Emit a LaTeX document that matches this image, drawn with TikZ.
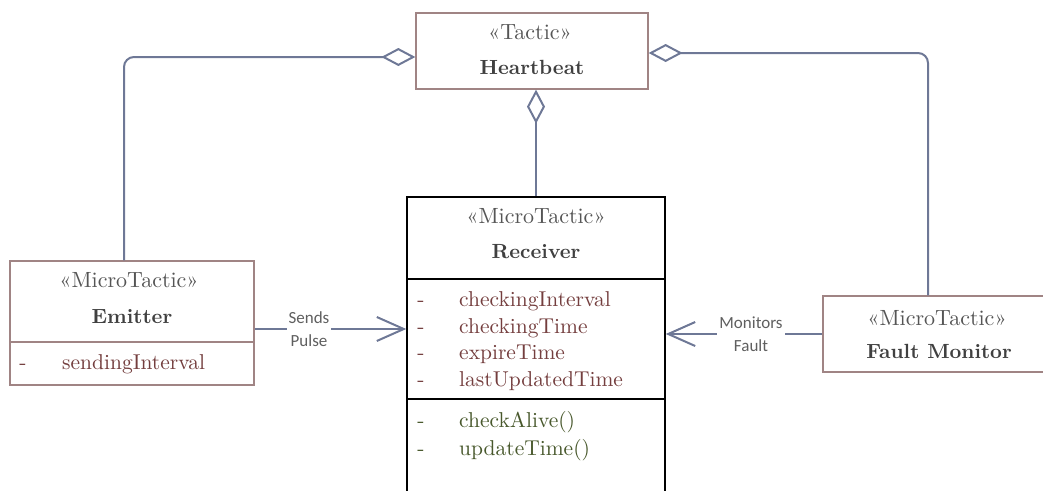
\documentclass[tikz,border=0pt]{standalone}
\usepackage{fontspec}
\IfFontExistsTF{lmroman10-regular.otf}{%
  \newfontfamily\lmten{lmroman10-regular.otf}[BoldFont=lmroman10-bold.otf]}{%
  \newfontfamily\lmten{Latin Modern Roman}}
\newfontfamily\lblfont{Carlito}
\usetikzlibrary{arrows.meta}
\definecolor{boxc}{HTML}{A08484}
\definecolor{connc}{HTML}{6E7896}
\definecolor{stc}{HTML}{555555}
\definecolor{namec}{HTML}{404040}
\definecolor{attrc}{HTML}{743E3E}
\definecolor{opc}{HTML}{48582C}
\definecolor{lblc}{HTML}{5F5F5F}
\begin{document}
\begin{tikzpicture}[x=1pt,y=-1pt,
  box/.style={draw=boxc,line width=1.3pt,inner sep=0pt,fill=white},
  rbox/.style={draw=black,line width=1.5pt,inner sep=0pt},
  stereo/.style={font=\lmten\fontsize{22}{25}\selectfont,text=stc,anchor=base,inner sep=0pt},
  cname/.style={font=\lmten\fontsize{20.5}{25}\selectfont\bfseries,text=namec,anchor=base,inner sep=0pt},
  attr/.style={font=\lmten\fontsize{21.5}{25}\selectfont,text=attrc,anchor=base west,inner sep=0pt},
  attrdash/.style={font=\lmten\fontsize{21.5}{25}\selectfont,text=attrc,anchor=base,inner sep=0pt},
  op/.style={font=\lmten\fontsize{21.5}{25}\selectfont,text=opc,anchor=base west,inner sep=0pt},
  opdash/.style={font=\lmten\fontsize{21.5}{25}\selectfont,text=opc,anchor=base,inner sep=0pt},
  connline/.style={draw=connc,line width=2pt},
  agg/.style={connline,{Diamond[open,length=34pt,width=18pt,line width=2pt]}-,rounded corners=10pt},
  assoc/.style={connline,-{Straight Barb[length=27pt,width=24pt,line width=2pt]}},
  lbl/.style={font=\lblfont\fontsize{17}{23}\selectfont,text=lblc,fill=white,align=center,inner sep=2pt}]
\useasboundingbox (0,0) rectangle (1043,490);
\begin{scope}
\clip (0,0) rectangle (1043,490);
% Heartbeat
\node[box,minimum width=232pt,minimum height=76pt] (hb) at (532,51) {};
\node[stereo] (hbs) at (530,39) {«Tactic»};
\node[cname] (hbn) at (532,74) {Heartbeat};
% Receiver
\node[rbox,minimum width=258pt,minimum height=82pt] (rcH) at (536,238) {};
\node[rbox,minimum width=258pt,minimum height=120pt] (rcA) at (536,339) {};
\node[rbox,minimum width=258pt,minimum height=96pt] (rcO) at (536,447) {};
\node[stereo] (rcs) at (536,223) {«MicroTactic»};
\node[cname] (rcn) at (536,258) {Receiver};
\node[attrdash] (d1) at (421,306) {-};
\node[attr] (a1) at (459,306) {checkingInterval};
\node[attrdash] (d2) at (421,333) {-};
\node[attr] (a2) at (459,333) {checkingTime};
\node[attrdash] (d3) at (421,359) {-};
\node[attr] (a3) at (459,359) {expireTime};
\node[attrdash] (d4) at (421,386) {-};
\node[attr] (a4) at (459,386) {lastUpdatedTime};
\node[opdash] (d5) at (421,427) {-};
\node[op] (o1) at (459,427) {checkAlive()};
\node[opdash] (d6) at (421,455) {-};
\node[op] (o2) at (459,455) {updateTime()};
% Emitter
\node[box,minimum width=244pt,minimum height=124pt] (em) at (132,323) {};
\draw[draw=boxc,line width=1.3pt] (em.west |- 0,342) -- (em.east |- 0,342);
\node[stereo] (ems) at (129,287) {«MicroTactic»};
\node[cname] (emn) at (132,323) {Emitter};
\node[attrdash] (d7) at (23,369) {-};
\node[attr] (a5) at (62,369) {sendingInterval};
% Fault Monitor
\node[box,minimum width=232pt,minimum height=76pt] (fm) at (939,334) {};
\node[stereo] (fms) at (937,325) {«MicroTactic»};
\node[cname] (fmn) at (939,358) {Fault Monitor};
% aggregations
\draw[agg] ([yshift=-6pt]hb.west) -| ([xshift=-8pt]em.north);
\draw[agg] ([yshift=-2pt]hb.east) -| ([xshift=-11pt]fm.north);
\draw[agg] (hb.south -| rcH.north) -- (rcH.north);
% associations
\draw[assoc] (em.east |- 0,329) -- (rcA.west |- 0,329);
\node[lbl] (l1) at (309,329) {Sends\\Pulse};
\draw[assoc] (fm.west) -- (rcA.east |- fm.west);
\node[lbl] (l2) at (751,334) {Monitors\\Fault};
\end{scope}
\end{tikzpicture}
\end{document}
